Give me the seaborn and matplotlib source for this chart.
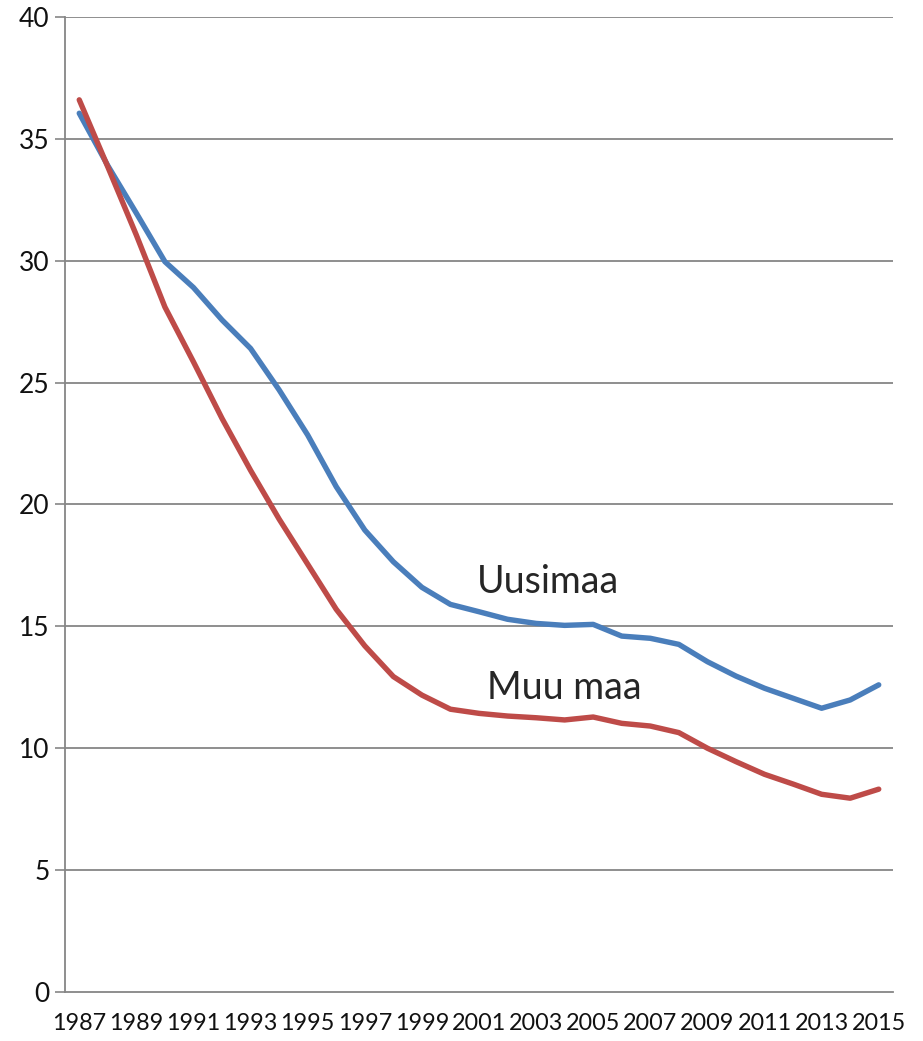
import matplotlib
matplotlib.use("Agg")
import matplotlib.pyplot as plt
import seaborn as sns
import pandas as pd

years = list(range(1987, 2016))
uusimaa = [36.05, 33.9, 31.95, 29.96, 28.9, 27.57, 26.4, 24.7, 22.85, 20.73,
           18.95, 17.65, 16.6, 15.9, 15.6, 15.29, 15.12, 15.04, 15.08, 14.6,
           14.51, 14.26, 13.55, 12.96, 12.46, 12.05, 11.64, 11.98, 12.6]
muu_maa = [36.6, 33.85, 31.05, 28.1, 25.85, 23.53, 21.4, 19.4, 17.55, 15.7,
           14.2, 12.94, 12.18, 11.6, 11.43, 11.32, 11.25, 11.16, 11.28, 11.02,
           10.91, 10.64, 10.0, 9.45, 8.93, 8.53, 8.11, 7.95, 8.32]
series_names = ["Uusimaa", "Muu maa"]
year_labels = [str(y) for y in years[::2]]

pos = list(range(len(years)))
df = pd.concat([
    pd.DataFrame({"pos": pos, "value": uusimaa, "region": series_names[0]}),
    pd.DataFrame({"pos": pos, "value": muu_maa, "region": series_names[1]}),
], ignore_index=True)

sns.set_style("white")
plt.rcParams["font.family"] = ["Lato", "DejaVu Sans"]

fig = plt.figure(figsize=(9.23, 10.41), dpi=100)
ax = fig.add_axes([0.0704, 0.0471, 0.8971, 0.9366])

grid_col = "#868686"
for yv in range(5, 45, 5):
    ax.axhline(yv, color=grid_col, lw=1.3, zorder=0)

sns.lineplot(data=df, x="pos", y="value", hue="region", hue_order=series_names,
             palette={"Uusimaa": "#4A7EBB", "Muu maa": "#BE4B48"},
             linewidth=3.9, legend=False, ax=ax)

ax.set_xlim(-0.5, len(years) - 0.5)
ax.set_ylim(0, 40)
ax.set_yticks(range(0, 45, 5))
ax.set_xticks(pos[::2])
ax.set_xticklabels(year_labels)
ax.set_xticks([p - 0.5 for p in range(len(years) + 1)], minor=True)
ax.tick_params(axis="x", which="major", length=0, pad=15, labelsize=16.8, labelcolor="#111111")
ax.tick_params(axis="x", which="minor", length=6, color=grid_col, width=1.2, direction="out")
ax.tick_params(axis="y", length=7, color=grid_col, width=1.2, pad=4, labelsize=19,
               labelcolor="#111111", left=True)
ax.set_xlabel("")
ax.set_ylabel("")

for s in ["top", "right"]:
    ax.spines[s].set_visible(False)
for s in ["left", "bottom"]:
    ax.spines[s].set_color(grid_col)
    ax.spines[s].set_linewidth(1.3)

ax.text(16.4, 16.8, series_names[0], ha="center", va="center", fontsize=27)
ax.text(17.0, 12.45, series_names[1], ha="center", va="center", fontsize=27)

fig.savefig("out.png", dpi=100)
